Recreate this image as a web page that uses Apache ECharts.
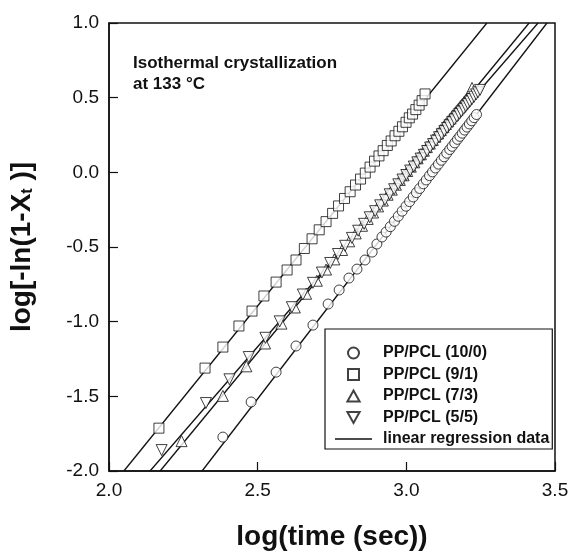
<!DOCTYPE html>
<html>
<head>
<meta charset="utf-8">
<script src="https://cdn.jsdelivr.net/npm/echarts@6/dist/echarts.min.js"></script>
<style>
html,body{margin:0;padding:0;background:#fff;}
#chart{width:572px;height:552px;}
</style>
</head>
<body>
<div id="chart"></div>
<script>
// ---- data (log time, log[-ln(1-Xt)]) ----
const seriesNames = ['PP/PCL (10/0)', 'PP/PCL (9/1)', 'PP/PCL (7/3)', 'PP/PCL (5/5)'];
const regName = 'linear regression data';

const pp100X = [2.383, 2.478, 2.562, 2.629, 2.686, 2.737, 2.774, 2.807, 2.834, 2.861, 2.885, 2.901, 2.918, 2.932, 2.946, 2.960, 2.973, 2.986, 2.999, 3.011, 3.023, 3.034, 3.045, 3.057, 3.067, 3.078, 3.088, 3.098, 3.108, 3.118, 3.127, 3.136, 3.146, 3.154, 3.163, 3.172, 3.180, 3.188, 3.196, 3.204, 3.212, 3.220, 3.228, 3.236];
const pp100Y = [-1.773, -1.538, -1.338, -1.163, -1.023, -0.882, -0.788, -0.708, -0.648, -0.587, -0.534, -0.480, -0.433, -0.400, -0.364, -0.328, -0.294, -0.260, -0.227, -0.196, -0.165, -0.136, -0.108, -0.077, -0.051, -0.022, 0.003, 0.029, 0.055, 0.081, 0.104, 0.128, 0.153, 0.174, 0.197, 0.221, 0.241, 0.262, 0.283, 0.303, 0.324, 0.345, 0.366, 0.387];

const pp91X = [2.168, 2.323, 2.383, 2.437, 2.481, 2.521, 2.562, 2.599, 2.629, 2.657, 2.683, 2.707, 2.730, 2.752, 2.772, 2.792, 2.811, 2.829, 2.846, 2.862, 2.878, 2.893, 2.908, 2.922, 2.936, 2.949, 2.962, 2.975, 2.987, 2.999, 3.010, 3.021, 3.032, 3.043, 3.053, 3.063];
const pp91Y = [-1.713, -1.311, -1.170, -1.029, -0.929, -0.828, -0.735, -0.654, -0.587, -0.510, -0.445, -0.385, -0.330, -0.275, -0.225, -0.175, -0.130, -0.085, -0.045, -0.005, 0.035, 0.075, 0.110, 0.145, 0.180, 0.210, 0.245, 0.275, 0.305, 0.335, 0.365, 0.390, 0.420, 0.450, 0.480, 0.525];

const pp73X = [2.244, 2.383, 2.462, 2.525, 2.580, 2.625, 2.663, 2.699, 2.730, 2.758, 2.784, 2.808, 2.830, 2.851, 2.870, 2.888, 2.905, 2.921, 2.937, 2.951, 2.965, 2.978, 2.991, 3.003, 3.015, 3.027, 3.038, 3.049, 3.059, 3.069, 3.079, 3.089, 3.098, 3.107, 3.116, 3.125, 3.133, 3.141, 3.149, 3.157, 3.165, 3.172, 3.180, 3.187, 3.194, 3.201, 3.208, 3.214, 3.221];
const pp73Y = [-1.800, -1.497, -1.299, -1.146, -1.013, -0.905, -0.813, -0.726, -0.651, -0.583, -0.520, -0.462, -0.409, -0.358, -0.312, -0.269, -0.228, -0.189, -0.150, -0.116, -0.083, -0.051, -0.020, 0.009, 0.038, 0.067, 0.094, 0.121, 0.145, 0.169, 0.193, 0.217, 0.239, 0.261, 0.283, 0.304, 0.324, 0.343, 0.362, 0.382, 0.401, 0.418, 0.437, 0.454, 0.471, 0.488, 0.505, 0.525, 0.565];

const pp55X = [2.177, 2.326, 2.405, 2.470, 2.526, 2.574, 2.615, 2.652, 2.686, 2.716, 2.744, 2.770, 2.794, 2.817, 2.838, 2.858, 2.877, 2.895, 2.912, 2.928, 2.944, 2.959, 2.973, 2.987, 3.000, 3.013, 3.025, 3.037, 3.048, 3.059, 3.070, 3.080, 3.090, 3.100, 3.110, 3.119, 3.128, 3.137, 3.145, 3.154, 3.162, 3.170, 3.178, 3.185, 3.193, 3.200, 3.207, 3.214, 3.221, 3.228, 3.235, 3.241, 3.248];
const pp55Y = [-1.860, -1.545, -1.386, -1.237, -1.108, -0.998, -0.903, -0.818, -0.740, -0.671, -0.607, -0.547, -0.492, -0.439, -0.391, -0.345, -0.301, -0.260, -0.221, -0.184, -0.147, -0.113, -0.080, -0.048, -0.018, 0.012, 0.039, 0.067, 0.092, 0.117, 0.143, 0.166, 0.189, 0.212, 0.235, 0.255, 0.276, 0.297, 0.315, 0.336, 0.354, 0.373, 0.391, 0.407, 0.425, 0.442, 0.458, 0.474, 0.490, 0.506, 0.522, 0.536, 0.552];

// regression lines: endpoints where each fitted line meets the frame
const reg100X = [2.313, 3.473], reg100Y = [-2.0, 1.0];
const reg91X  = [2.050, 3.271], reg91Y  = [-2.0, 1.0];
const reg73X  = [2.172, 3.413], reg73Y  = [-2.0, 1.0];
const reg55X  = [2.138, 3.443], reg55Y  = [-2.0, 1.0];

const xTickLabels = ['2.0', '2.5', '3.0', '3.5'];
const yTickLabels = ['-2.0', '-1.5', '-1.0', '-0.5', '0.0', '0.5', '1.0'];

// ---- chart ----
const zip = (a, b) => a.map((v, i) => [v, b[i]]);
const FONT = "'Liberation Sans', Arial, Helvetica, sans-serif";
const SQ = 'path://M0,0 L10,0 L10,10 L0,10 Z';
const TRI = 'path://M5,0 L10,9 L0,9 Z';
const INV_TRI = 'path://M0,0 L10,0 L5,9 Z';
const LINE_ICON = 'path://M0,0 L40,0 L40,1.5 L0,1.5 Z';

const markStyle = { color: '#fff', borderColor: '#111', borderWidth: 1 };
function scatter(name, xs, ys, symbol, size) {
  return {
    name, type: 'scatter', data: zip(xs, ys), symbol, symbolSize: size,
    itemStyle: markStyle, z: 5, animation: false, silent: true
  };
}
function reg(xs, ys) {
  return {
    name: regName, type: 'line', data: zip(xs, ys), symbol: 'none', showSymbol: false,
    lineStyle: { color: '#111', width: 1.3 }, itemStyle: { color: '#111' },
    z: 2, animation: false, silent: true
  };
}

const chart = echarts.init(document.getElementById('chart'), null, { renderer: 'canvas' });
chart.setOption({
  backgroundColor: '#fff',
  animation: false,
  grid: { left: 109, right: 17, top: 23, bottom: 81, containLabel: false, outerBoundsMode: 'none',
    show: true, borderColor: '#111', borderWidth: 1.5, backgroundColor: 'transparent' },
  xAxis: {
    type: 'value', min: 2.0, max: 3.5, interval: 0.5,
    axisLine: { show: true, onZero: false, lineStyle: { color: '#111', width: 1.5 } },
    axisTick: { show: true, inside: true, length: 9, lineStyle: { color: '#111', width: 1.2 } },
    axisLabel: { margin: 10, fontSize: 19, color: '#111', fontFamily: FONT,
      formatter: v => xTickLabels[Math.round((v - 2.0) / 0.5)] },
    splitLine: { show: false },
    name: 'log(time (sec))', nameLocation: 'middle', nameGap: 52,
    nameTextStyle: { fontSize: 28, fontWeight: 'bold', color: '#111', fontFamily: FONT }
  },
  yAxis: {
    type: 'value', min: -2.0, max: 1.0, interval: 0.5,
    axisLine: { show: true, onZero: false, lineStyle: { color: '#111', width: 1.5 } },
    axisTick: { show: true, inside: true, length: 9, lineStyle: { color: '#111', width: 1.2 } },
    axisLabel: { margin: 10, fontSize: 19, color: '#111', fontFamily: FONT,
      formatter: v => yTickLabels[Math.round((v + 2.0) / 0.5)] },
    splitLine: { show: false },
    name: '{a|log[-ln(1-X}{b|t}{a| )]}', nameLocation: 'middle', nameGap: 70,
    nameTextStyle: {
      color: '#111', fontFamily: FONT,
      rich: {
        a: { fontSize: 28, fontWeight: 'bold', color: '#111', fontFamily: FONT, lineHeight: 34 },
        b: { fontSize: 16, fontWeight: 'bold', color: '#111', fontFamily: FONT, lineHeight: 34, padding: [12, 0, 0, 0] }
      }
    }
  },
  legend: {
    orient: 'vertical', left: 325, top: 329,
    padding: [14, 3, 0, 10], itemGap: 1.5, itemWidth: 37, itemHeight: 11,
    symbolKeepAspect: true,
    borderColor: '#111', borderWidth: 1.2, backgroundColor: '#fff',
    textStyle: { fontSize: 16, fontWeight: 'bold', color: '#111', fontFamily: FONT, lineHeight: 20, padding: [0, 0, 0, 6] },
    data: [
      { name: seriesNames[0], icon: 'circle' },
      { name: seriesNames[1], icon: SQ },
      { name: seriesNames[2], icon: TRI },
      { name: seriesNames[3], icon: INV_TRI },
      { name: regName, icon: LINE_ICON }
    ],
    selectedMode: false
  },
  graphic: [{
    type: 'text', left: 133, top: 53, silent: true,
    style: { text: 'Isothermal crystallization\nat 133 °C', font: "bold 17px " + FONT, fill: '#111', lineHeight: 21 }
  }],
  series: [
    reg(reg100X, reg100Y), reg(reg91X, reg91Y), reg(reg73X, reg73Y), reg(reg55X, reg55Y),
    scatter(seriesNames[0], pp100X, pp100Y, 'circle', 10),
    scatter(seriesNames[1], pp91X, pp91Y, SQ, 10),
    scatter(seriesNames[2], pp73X, pp73Y, TRI, 11),
    scatter(seriesNames[3], pp55X, pp55Y, INV_TRI, 11)
  ]
});
</script>
</body>
</html>
